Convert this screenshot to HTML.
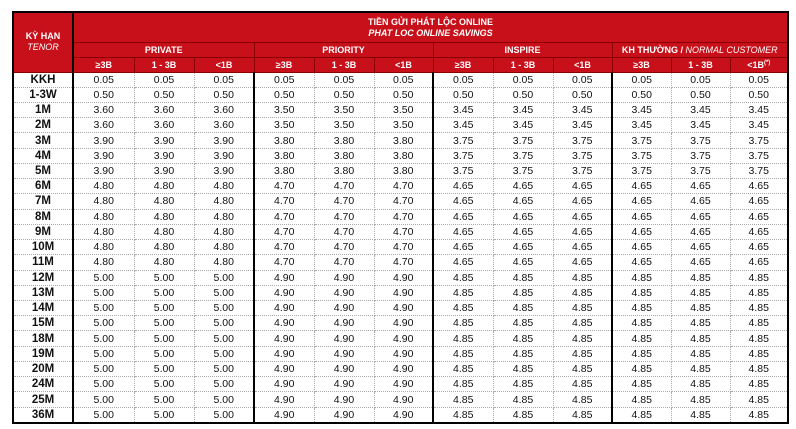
<!DOCTYPE html>
<html><head><meta charset="utf-8"><style>
body{margin:0;background:#fff;width:796px;height:429px;overflow:hidden;font-family:"Liberation Sans",sans-serif;}
table{position:absolute;left:12px;top:11px;border-collapse:collapse;table-layout:fixed;border:2px solid #000;height:413px;}
td,th{padding:0;text-align:center;overflow:hidden;white-space:nowrap;}
th{background:#c8101a;color:#fff;font-size:9px;font-weight:bold;border:1px solid #8a0000;}
th i{font-weight:normal}
td{font-size:10.5px;color:#111;line-height:12px;border:1px dotted #aaa;}
td.t{font-weight:bold;font-size:11.5px;}
.g{border-right:2px solid #000;}
tr.h3 th{height:14px;}
</style></head><body>
<table>
<colgroup><col style="width:60px"><col style="width:61px"><col style="width:60px"><col style="width:60px"><col style="width:60px"><col style="width:60px"><col style="width:59px"><col style="width:60px"><col style="width:60px"><col style="width:59px"><col style="width:59px"><col style="width:59px"><col style="width:58px"></colgroup>
<thead>
<tr style="height:30px"><th rowspan="3" class="g" style="line-height:11px">KỲ HẠN<br><i>TENOR</i></th><th colspan="12" style="line-height:11px;padding-top:2px">TIỀN GỬI PHÁT LỘC ONLINE<br><i style="font-weight:bold">PHAT LOC ONLINE SAVINGS</i></th></tr>
<tr style="height:15px"><th colspan="3">PRIVATE</th><th colspan="3">PRIORITY</th><th colspan="3">INSPIRE</th><th colspan="3">KH THƯỜNG / <i>NORMAL CUSTOMER</i></th></tr>
<tr class="h3"><th>≥3B</th><th>1 - 3B</th><th>&lt;1B</th><th>≥3B</th><th>1 - 3B</th><th>&lt;1B</th><th>≥3B</th><th>1 - 3B</th><th>&lt;1B</th><th>≥3B</th><th>1 - 3B</th><th>&lt;1B<sup style="font-size:6px">(*)</sup></th></tr>
</thead>
<tbody id="b"></tbody>
</table>
<script>
var rows=[["KKH","0.05","0.05","0.05","0.05"],["1-3W","0.50","0.50","0.50","0.50"],["1M","3.60","3.50","3.45","3.45"],["2M","3.60","3.50","3.45","3.45"],["3M","3.90","3.80","3.75","3.75"],["4M","3.90","3.80","3.75","3.75"],["5M","3.90","3.80","3.75","3.75"]];
["6M","7M","8M","9M","10M","11M"].forEach(function(t){rows.push([t,"4.80","4.70","4.65","4.65"]);});
["12M","13M","14M","15M","18M","19M","20M","24M","25M","36M"].forEach(function(t){rows.push([t,"5.00","4.90","4.85","4.85"]);});
var h="";rows.forEach(function(r,i){h+='<tr><td class="t g">'+r[0]+'</td>';for(var g=1;g<=4;g++){for(var k=0;k<3;k++){h+='<td'+(k==2&&g<4?' class="g"':'')+'>'+r[g]+'</td>';}}h+='</tr>';});
document.getElementById("b").innerHTML=h;
</script>
</body></html>
